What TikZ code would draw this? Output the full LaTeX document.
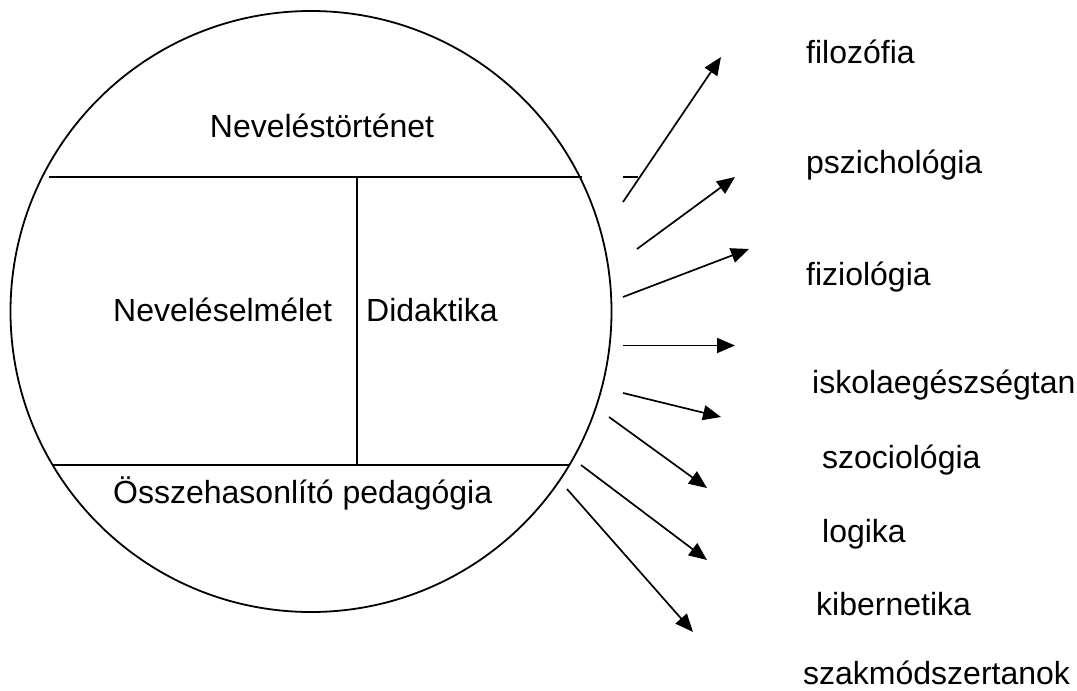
\documentclass[tikz,border=0pt]{standalone}
\usepackage{fontspec}
\setmainfont{Liberation Sans}
\usetikzlibrary{arrows.meta}
\tikzset{
  lbl/.style={inner sep=0pt, anchor=base west, font=\fontsize{32}{38}\selectfont},
  ctr/.style={inner sep=0pt, anchor=base, font=\fontsize{32}{38}\selectfont},
  divider/.style={line width=1.3pt},
  rim/.style={line width=1.8pt},
  ray/.style={line width=1.7pt, -{Triangle[length=18pt,width=15pt]}}
}
\begin{document}
\begin{tikzpicture}[x=1pt,y=-1pt]
\useasboundingbox (0,0) rectangle (1077,691);
% main circle
\node[draw, rim, circle, minimum size=601pt, inner sep=0pt] (c) at (311,311.5) {};
% dividing lines
\coordinate (t1) at (49,177);
\coordinate (t2) at (582,177);
\coordinate (b1) at (52,465);
\coordinate (b2) at (569,465);
\coordinate (v1) at (357,177);
\coordinate (v2) at (357,465);
\draw[divider] (t1) -- (t2);
\draw[divider] (b1) -- (b2);
\draw[divider] (v1) -- (v2);
\coordinate (s1) at (623,177);
\coordinate (s2) at (638,177);
\draw[divider] (s1) -- (s2);
% inner texts
\node[ctr] (nt) at (322,137) {Neveléstörténet};
\node[lbl] (ne) at (113,321) {Neveléselmélet};
\node[lbl] (di) at (366,321) {Didaktika};
\node[lbl] (op) at (113,503) {Összehasonlító pedagógia};
% right labels
\node[lbl] (l1) at (806,63) {filozófia};
\node[lbl] (l2) at (806,173) {pszichológia};
\node[lbl] (l3) at (806,285) {fiziológia};
\node[lbl] (l4) at (812,393) {iskolaegészségtan};
\node[lbl] (l5) at (822,468) {szociológia};
\node[lbl] (l6) at (822,542) {logika};
\node[lbl] (l7) at (816,615) {kibernetika};
\node[lbl] (l8) at (803,684) {szakmódszertanok};
% arrows
\coordinate (a1s) at (623,202);  \coordinate (a1e) at (721,57);
\coordinate (a2s) at (637,249);  \coordinate (a2e) at (735,177);
\coordinate (a3s) at (623,297);  \coordinate (a3e) at (749,249);
\coordinate (a4s) at (623,345.5);\coordinate (a4e) at (735,345.5);
\coordinate (a5s) at (623,393);  \coordinate (a5e) at (721,417);
\coordinate (a6s) at (609,417);  \coordinate (a6e) at (707,488);
\coordinate (a7s) at (581,465);  \coordinate (a7e) at (707,560);
\coordinate (a8s) at (567,489);  \coordinate (a8e) at (693,632);
\foreach \i in {1,...,8}{\draw[ray] (a\i s) -- (a\i e);}
\end{tikzpicture}
\end{document}
